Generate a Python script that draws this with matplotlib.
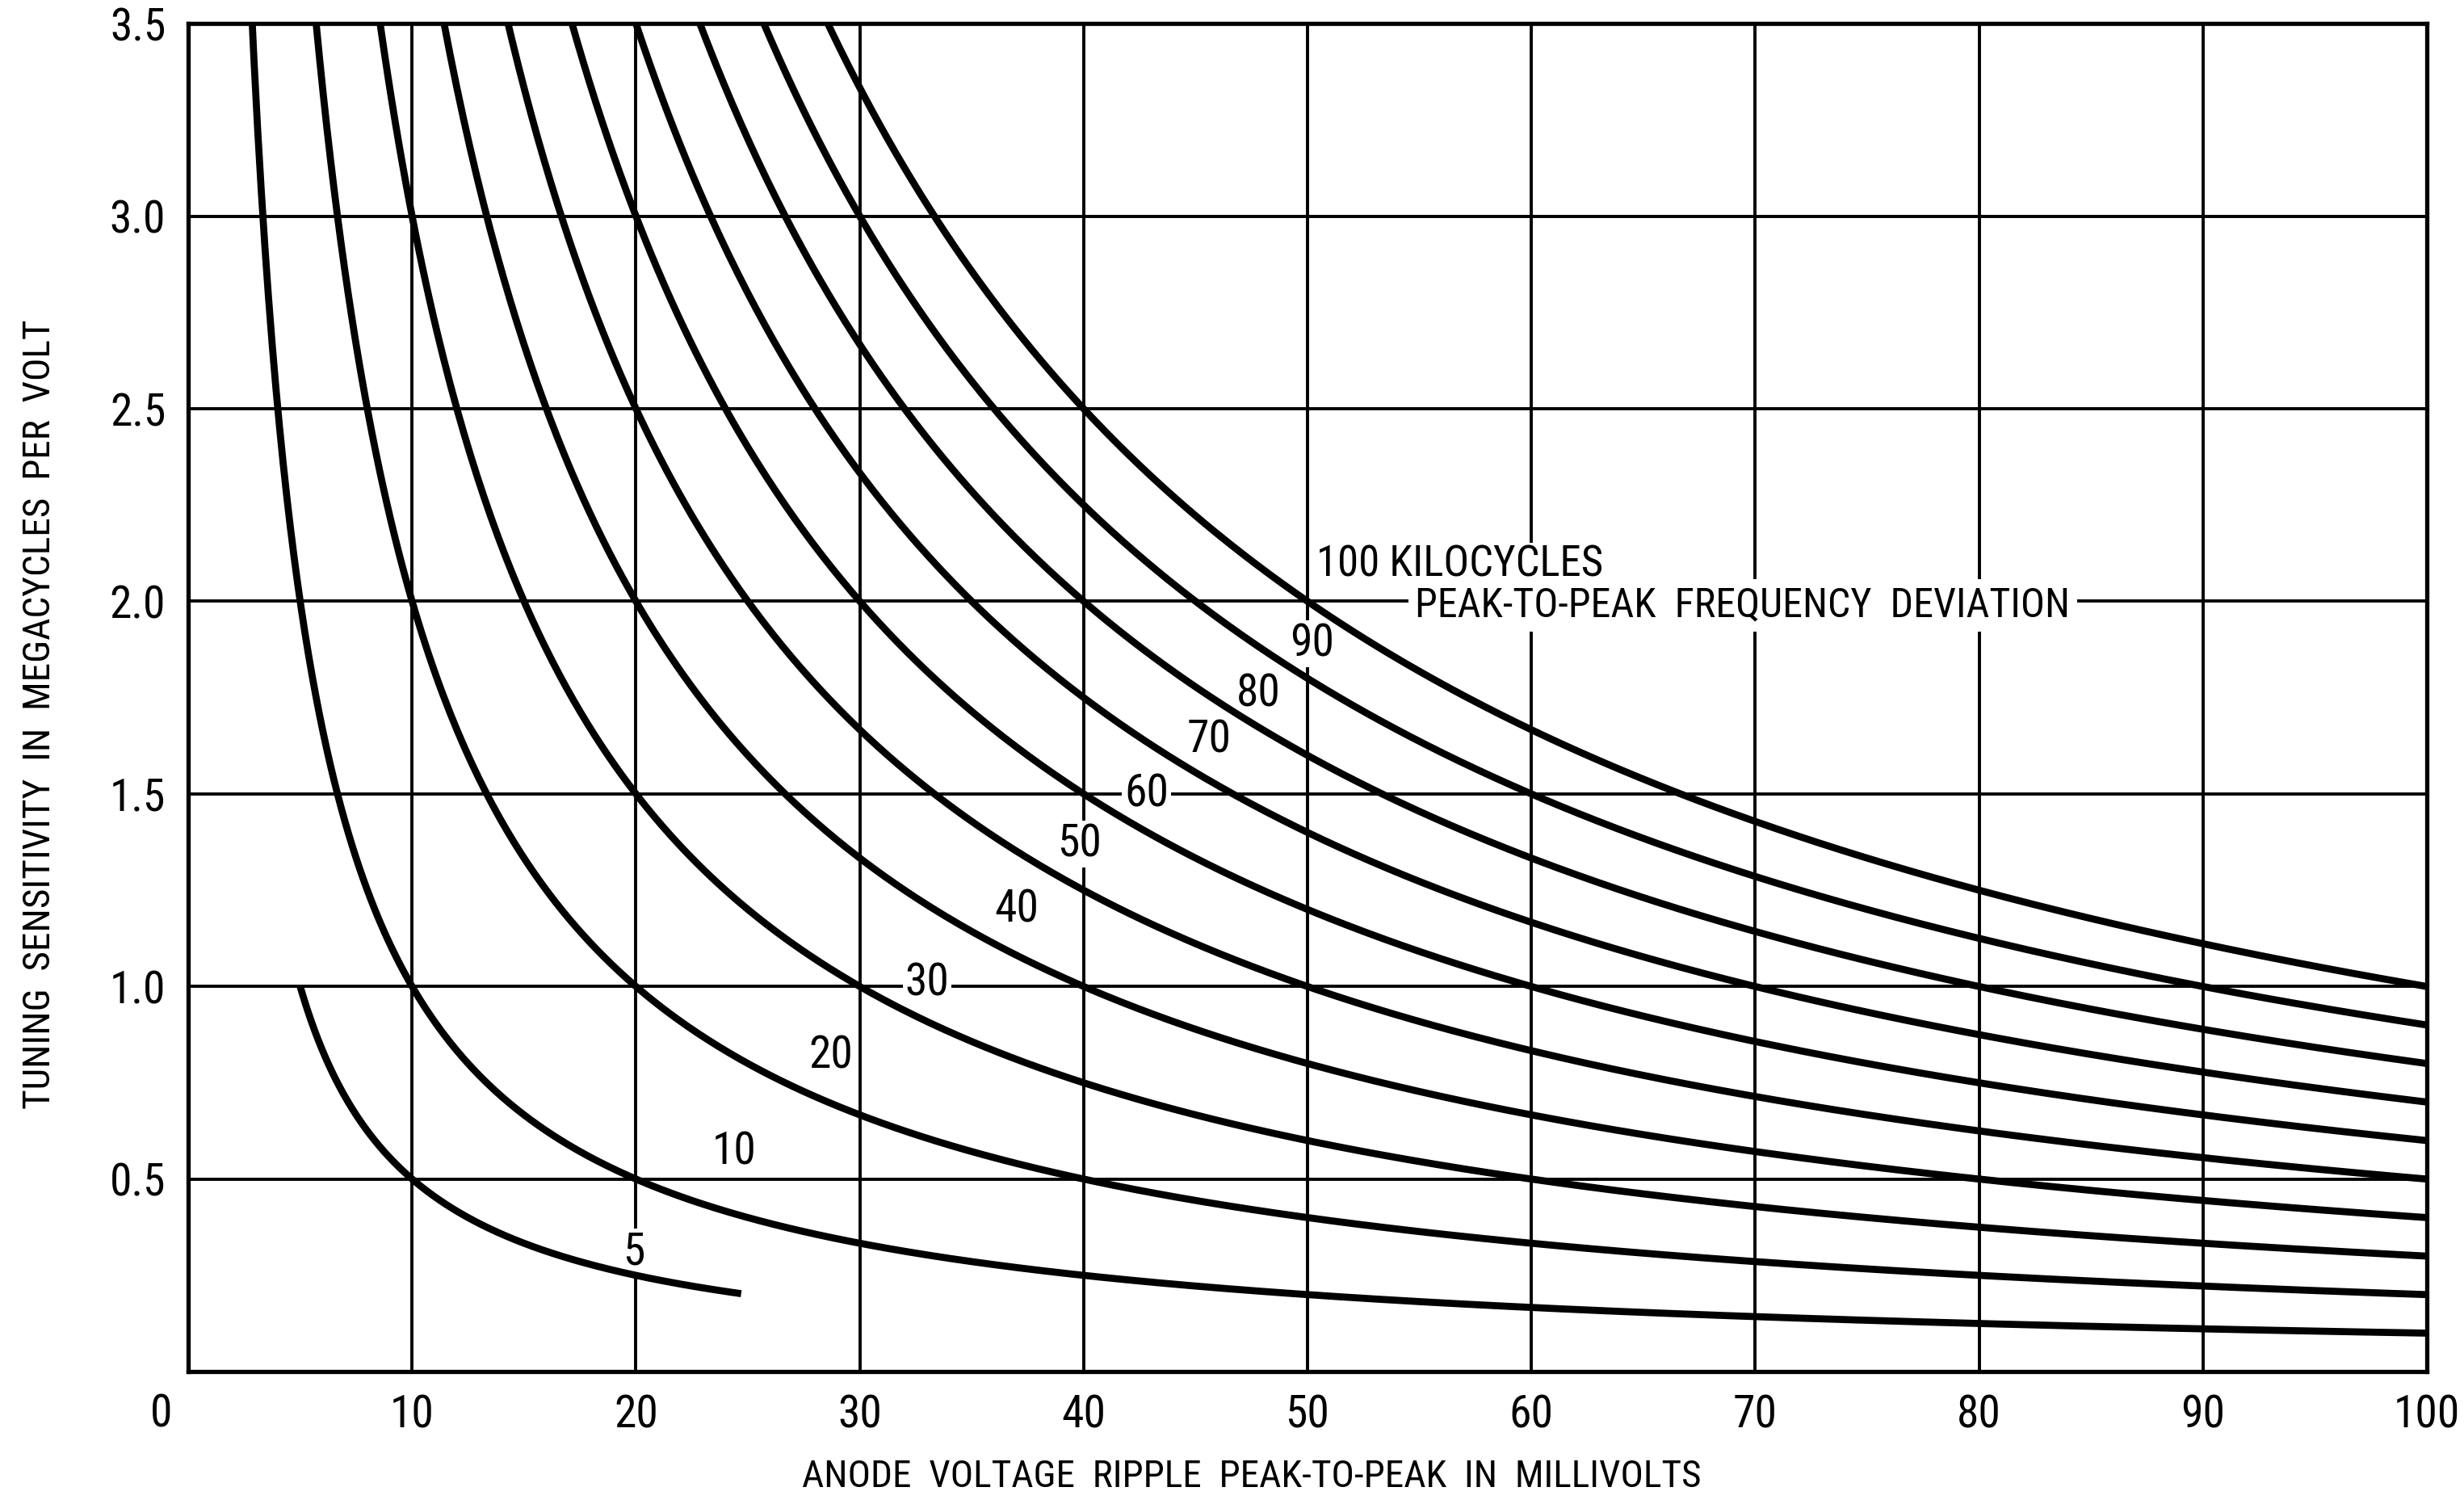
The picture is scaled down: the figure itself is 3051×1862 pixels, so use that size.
import numpy as np
import matplotlib
matplotlib.use("Agg")
import matplotlib.pyplot as plt
from matplotlib import font_manager

# peak-to-peak frequency deviation of each curve, kilocycles
deviation_kc = [5, 10, 20, 30, 40, 50, 60, 70, 80, 90, 100]
# ripple range covered by each curve, millivolts (None = runs off the top)
ripple_start = [5, None, None, None, None, None, None, None, None, None, None]
ripple_end = [24.7, 100, 100, 100, 100, 100, 100, 100, 100, 100, 100]

x_ticks = list(range(0, 101, 10))
x_tick_labels = [""] + [str(v) for v in range(10, 101, 10)]
y_ticks = [0.5, 1.0, 1.5, 2.0, 2.5, 3.0, 3.5]
y_tick_labels = ["0.5", "1.0", "1.5", "2.0", "2.5", "3.0", "3.5"]

# where the curve numbers sit (ripple mV, sensitivity Mc/V)
label_pos = {5: (19.9, 0.31), 10: (24.4, 0.57), 20: (28.7, 0.82),
             30: (33.0, 1.01), 40: (37.0, 1.20), 50: (39.8, 1.37),
             60: (42.8, 1.50), 70: (45.6, 1.64), 80: (47.8, 1.76),
             90: (50.2, 1.89)}

names = {f.name for f in font_manager.fontManager.ttflist}
for fam in ["Roboto Condensed", "Sofia Sans Condensed", "Archivo Narrow",
            "PT Sans Narrow", "Encode Sans Condensed", "DejaVu Sans"]:
    if fam in names:
        break
plt.rcParams["font.family"] = [fam, "DejaVu Sans"]

fig = plt.figure(figsize=(30.51, 18.62), dpi=100)
ax = fig.add_axes([0.0764, 0.088, 0.9085, 0.8963])

for dev, x0, x1 in zip(deviation_kc, ripple_start, ripple_end):
    if x0 is None:
        x0 = dev / 3.6
    x = np.linspace(x0, x1, 600)
    ax.plot(x, dev / x, color="black", lw=6.3, solid_capstyle="butt", zorder=3)

for dev, (lx, ly) in label_pos.items():
    ax.text(lx, ly, str(dev), fontsize=40, ha="center", va="center", zorder=2,
            bbox=dict(facecolor="white", edgecolor="none", pad=2))

ax.text(50.4, 2.095, "100 KILOCYCLES", fontsize=38, ha="left", va="center", zorder=2,
        bbox=dict(facecolor="white", edgecolor="none", pad=1))
ax.text(54.8, 1.99, "PEAK-TO-PEAK  FREQUENCY  DEVIATION", fontsize=36,
        ha="left", va="center", zorder=2,
        bbox=dict(facecolor="white", edgecolor="none", pad=6))

ax.set_xlim(0, 100)
ax.set_ylim(0, 3.5)
ax.set_xticks(x_ticks)
ax.set_xticklabels(x_tick_labels)
ax.set_yticks(y_ticks)
ax.set_yticklabels(y_tick_labels)
ax.tick_params(length=0, labelsize=40, pad=20)
# the origin label sits down and to the left of the corner
ax.annotate("0", xy=(0, 0), xytext=(-24, -19), textcoords="offset points",
            fontsize=40, ha="center", va="top", annotation_clip=False)
ax.grid(True, color="black", lw=2.8, zorder=1)
ax.set_axisbelow(True)
for sp in ax.spines.values():
    sp.set_linewidth(3.8)

fig.text(0.016, 0.525, "TUNING  SENSITIVITY  IN  MEGACYCLES  PER  VOLT", rotation=90,
         fontsize=34, ha="center", va="center")
fig.text(0.508, 0.018, "ANODE  VOLTAGE  RIPPLE  PEAK-TO-PEAK  IN  MILLIVOLTS",
         fontsize=34, ha="center", va="center")

fig.savefig("out.png", dpi=100, facecolor="white")
